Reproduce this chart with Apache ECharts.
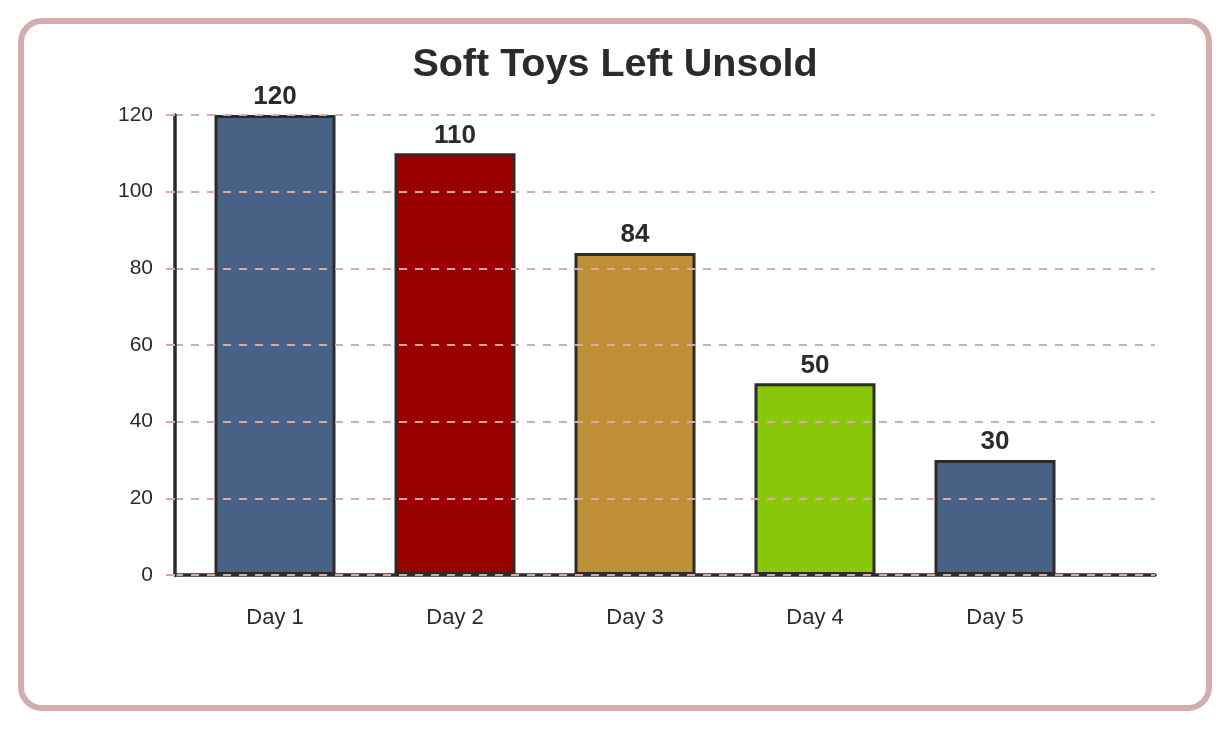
<!DOCTYPE html>
<html>
<head>
<meta charset="utf-8">
<script src="https://cdn.jsdelivr.net/npm/echarts@6/dist/echarts.min.js"></script>
<style>
  html, body { margin: 0; padding: 0; background: #ffffff; }
  #chart { position: absolute; left: 0; top: 0; width: 1230px; height: 730px; }
  #frame { position: absolute; left: 18px; top: 18px; width: 1194px; height: 693px;
           box-sizing: border-box; border: 6px solid #d4acad; border-radius: 24px; pointer-events: none; }
</style>
</head>
<body>
<div id="chart"></div>
<div id="frame"></div>
<script>
const categories = ['Day 1', 'Day 2', 'Day 3', 'Day 4', 'Day 5'];
const unsold = [120, 110, 84, 50, 30];
const yTicks = [0, 20, 40, 60, 80, 100, 120];

const palette = ['#486286', '#990000', '#c09038', '#88c70a', '#486286'];
const FONT = '"Liberation Sans", Arial, Helvetica, sans-serif';
const INK = '#2b2b2b';
const GRIDC = '#d4acad';

const chart = echarts.init(document.getElementById('chart'), null, { renderer: 'canvas' });

const option = {
  animation: false,
  backgroundColor: 'transparent',
  title: {
    text: 'Soft Toys Left Unsold',
    left: 'center',
    top: 40,
    textStyle: { fontFamily: FONT, fontSize: 39.5, fontWeight: 'bold', color: INK }
  },
  grid: [
    { left: 175, right: 75, top: 115, bottom: 155 },
    { left: 185, width: 900, top: 115, bottom: 155 }
  ],
  xAxis: [
    {
      gridIndex: 0, type: 'value', min: 0, max: 1,
      axisLine: { show: true, lineStyle: { color: INK, width: 3.5 } },
      axisTick: { show: false }, axisLabel: { show: false }, splitLine: { show: false }
    },
    {
      gridIndex: 1, type: 'category', data: categories,
      axisLine: { show: false }, axisTick: { show: false },
      axisLabel: { fontFamily: FONT, fontSize: 22, color: INK, margin: 32 }
    }
  ],
  yAxis: [
    {
      gridIndex: 0, type: 'value',
      min: yTicks[0], max: yTicks[yTicks.length - 1], interval: yTicks[1] - yTicks[0],
      axisLine: { show: true, lineStyle: { color: INK, width: 3.5 } },
      axisTick: { show: true, length: 9, lineStyle: { color: GRIDC, width: 2 } },
      axisLabel: { fontFamily: FONT, fontSize: 21, color: INK, margin: 22 },
      splitLine: { show: true, lineStyle: { color: GRIDC, width: 2, type: [8, 8] } },
      z: 5
    },
    {
      gridIndex: 1, type: 'value',
      min: yTicks[0], max: yTicks[yTicks.length - 1],
      show: false, splitLine: { show: false }
    }
  ],
  series: [
    {
      type: 'bar',
      xAxisIndex: 1, yAxisIndex: 1,
      barWidth: 121,
      data: unsold.map((v, i) => ({ value: v, itemStyle: { color: palette[i] } })),
      itemStyle: { borderColor: INK, borderWidth: 3 },
      label: {
        show: true, position: 'top', distance: 5,
        fontFamily: FONT, fontSize: 26, fontWeight: 'bold', color: INK
      },
      z: 3
    }
  ]
};
chart.setOption(option);
</script>
</body>
</html>
